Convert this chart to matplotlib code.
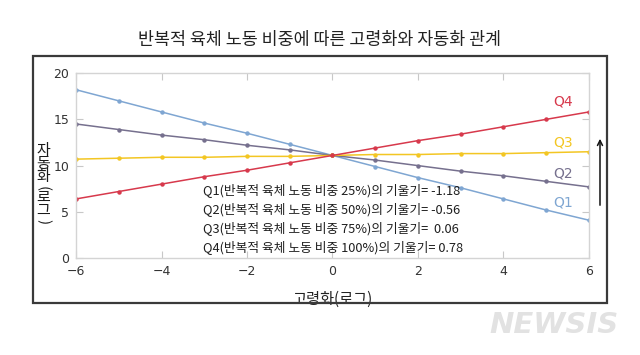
import matplotlib
matplotlib.use("Agg")
import matplotlib.pyplot as plt
from matplotlib.patches import Rectangle, FancyArrowPatch

plt.rcParams['font.family'] = ['Noto Sans CJK KR', 'DejaVu Sans']

# 데이터
x_vals = [-6, -5, -4, -3, -2, -1, 0, 1, 2, 3, 4, 5, 6]
q1 = [18.2, 17.0, 15.8, 14.6, 13.5, 12.3, 11.1, 9.9, 8.7, 7.6, 6.4, 5.2, 4.1]
q2 = [14.5, 13.9, 13.3, 12.8, 12.2, 11.7, 11.1, 10.6, 10.0, 9.4, 8.9, 8.3, 7.7]
q3 = [10.7, 10.8, 10.9, 10.9, 11.0, 11.0, 11.1, 11.2, 11.2, 11.3, 11.3, 11.4, 11.5]
q4 = [6.4, 7.2, 8.0, 8.8, 9.5, 10.3, 11.1, 11.9, 12.7, 13.4, 14.2, 15.0, 15.8]
series_names = ['Q1', 'Q2', 'Q3', 'Q4']
slope_labels = [
    'Q1(반복적 육체 노동 비중 25%)의 기울기= -1.18',
    'Q2(반복적 육체 노동 비중 50%)의 기울기= -0.56',
    'Q3(반복적 육체 노동 비중 75%)의 기울기=  0.06',
    'Q4(반복적 육체 노동 비중 100%)의 기울기= 0.78',
]
x_ticks = [-6, -4, -2, 0, 2, 4, 6]
y_ticks = [0, 5, 10, 15, 20]

colors = ['#7fa6d2', '#76708e', '#f3c623', '#d7394c']
label_y = [6.05, 9.1, 12.5, 16.9]

fig = plt.figure(figsize=(6.4, 3.55), dpi=100)
fig.patch.set_facecolor('white')

# 바깥 테두리
fig.patches.append(Rectangle((0.0516, 0.1465), 0.8964, 0.6955, transform=fig.transFigure,
                             fill=False, edgecolor='#3a3a3a', linewidth=1.6))

ax = fig.add_axes([0.119, 0.273, 0.801, 0.521])

for ys, c in zip([q1, q2, q3, q4], colors):
    ax.plot(x_vals, ys, color=c, linewidth=1.1, marker='o', markersize=2.2,
            markerfacecolor=c, markeredgecolor=c)

for name, c, ly in zip(series_names, colors, label_y):
    ax.text(5.4, ly, name, color=c, fontsize=10, ha='center', va='center',
            family=['DejaVu Sans'])

for i, t in enumerate(slope_labels):
    ax.text(-3.03, 7.35 - i * 2.05, t, fontsize=9.2, color='#1e1e1e',
            ha='left', va='center')

ax.set_xlim(-6, 6)
ax.set_ylim(0, 20)
ax.set_xticks(x_ticks)
ax.set_xticklabels(['\u22126', '\u22124', '\u22122', '0', '2', '4', '6'])
ax.set_yticks(y_ticks)
for s in ax.spines.values():
    s.set_color('#d4d4d4')
    s.set_linewidth(1.0)
ax.tick_params(direction='in', length=5, color='#c8c8c8', top=True, right=True,
               labelsize=9, labelcolor='#333333', pad=5)
for lab in ax.get_xticklabels() + ax.get_yticklabels():
    lab.set_family(['DejaVu Sans'])

ax.set_xlabel('고령화(로그)', fontsize=11, color='#222222', labelpad=9)

# y축 제목: 세로쓰기 (글자는 세우고 괄호만 회전)
ylab_chars = ['자', '동', '화', '(', '로', '그', ')']
ylab_pos = [151, 164, 177, 188, 198, 211, 222]
for ch, py in zip(ylab_chars, ylab_pos):
    rot = -90 if ch in '()' else 0
    fig.text(43 / 640, 1 - py / 355, ch, fontsize=10.8, color='#1a1a1a',
             ha='center', va='center', rotation=rot)

# 오른쪽 화살표
fig.patches.append(FancyArrowPatch((600 / 640, 1 - 208 / 355), (600 / 640, 1 - 136 / 355),
                                   transform=fig.transFigure, arrowstyle='->',
                                   mutation_scale=9, color='#111111', linewidth=1.1))

fig.text(0.5, 1 - 40 / 355, '반복적 육체 노동 비중에 따른 고령화와 자동화 관계',
         fontsize=12.5, color='#222222', ha='center', va='center')

# 워터마크
fig.text(554 / 640, 1 - 325 / 355, 'NEWSIS', fontsize=21, fontweight='bold',
         style='italic', color='#e2e2e2', ha='center', va='center',
         family=['DejaVu Sans'])

fig.savefig('out.png', dpi=100, facecolor='white')
